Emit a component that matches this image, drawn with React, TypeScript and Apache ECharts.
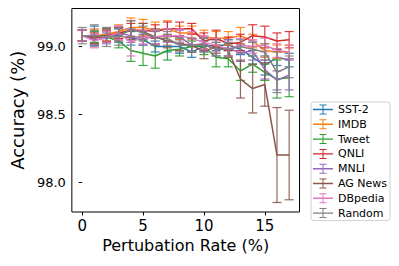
import React, { useEffect, useRef } from "react";
import * as echarts from "echarts";

const xValues = [0, 1, 2, 3, 4, 5, 6, 7, 8, 9, 10, 11, 12, 13, 14, 15, 16, 17];
const seriesNames = ["SST-2", "IMDB", "Tweet", "QNLI", "MNLI", "AG News", "DBpedia", "Random"];
const colors = ["#1f77b4", "#ff7f0e", "#2ca02c", "#d62728", "#9467bd", "#8c564b", "#e377c2", "#7f7f7f"];

const sst2 = [99.08, 99.08, 99.08, 99.08, 99.06, 99.05, 99.0, 99.0, 99.0, 98.96, 99.0, 99.01, 99.01, 98.98, 98.92, 98.86, 98.92, 98.9];
const sst2Err = [0.04, 0.07, 0.05, 0.05, 0.05, 0.04, 0.04, 0.04, 0.05, 0.04, 0.04, 0.04, 0.04, 0.04, 0.05, 0.07, 0.06, 0.05];
const imdb = [99.08, 99.08, 99.09, 99.11, 99.14, 99.14, 99.12, 99.13, 99.1, 99.1, 99.07, 99.06, 99.06, 99.08, 99.04, 98.97, 98.96, 98.96];
const imdbErr = [0.04, 0.05, 0.05, 0.05, 0.07, 0.06, 0.06, 0.06, 0.05, 0.05, 0.05, 0.05, 0.05, 0.06, 0.05, 0.05, 0.05, 0.05];
const tweet = [99.08, 99.07, 99.07, 99.04, 98.97, 98.95, 98.93, 98.97, 98.98, 99.0, 99.0, 98.92, 98.91, 98.82, 98.87, 98.81, 98.76, 98.77];
const tweetErr = [0.04, 0.04, 0.04, 0.05, 0.08, 0.09, 0.09, 0.07, 0.05, 0.04, 0.06, 0.07, 0.06, 0.07, 0.06, 0.06, 0.14, 0.14];
const qnli = [99.08, 99.06, 99.08, 99.1, 99.12, 99.12, 99.11, 99.13, 99.13, 99.13, 99.04, 99.06, 99.02, 99.03, 99.08, 99.07, 99.04, 99.05];
const qnliErr = [0.04, 0.04, 0.04, 0.04, 0.05, 0.05, 0.05, 0.05, 0.05, 0.04, 0.06, 0.06, 0.05, 0.06, 0.08, 0.08, 0.06, 0.06];
const mnli = [99.08, 99.05, 99.06, 99.1, 99.08, 99.06, 99.07, 99.08, 99.07, 99.01, 99.02, 98.98, 98.99, 98.95, 98.97, 98.83, 98.75, 98.79];
const mnliErr = [0.04, 0.04, 0.04, 0.05, 0.05, 0.05, 0.05, 0.05, 0.05, 0.05, 0.05, 0.05, 0.06, 0.06, 0.07, 0.07, 0.07, 0.11];
const agNews = [99.08, 99.07, 99.08, 99.09, 99.12, 99.11, 99.07, 99.04, 99.02, 99.01, 98.96, 99.0, 98.97, 98.76, 98.69, 98.72, 98.2, 98.2];
const agNewsErr = [0.04, 0.05, 0.05, 0.05, 0.07, 0.06, 0.06, 0.05, 0.05, 0.05, 0.05, 0.05, 0.05, 0.14, 0.18, 0.16, 0.35, 0.33];
const dbpedia = [99.08, 99.04, 99.07, 99.1, 99.03, 99.07, 99.07, 99.08, 99.08, 99.06, 99.03, 99.01, 98.98, 99.01, 99.0, 99.01, 98.97, 98.96];
const dbpediaErr = [0.04, 0.05, 0.04, 0.05, 0.1, 0.05, 0.05, 0.05, 0.05, 0.05, 0.05, 0.05, 0.05, 0.05, 0.05, 0.05, 0.05, 0.05];
const random = [99.08, 99.08, 99.07, 99.07, 99.13, 99.1, 99.06, 99.06, 99.01, 99.01, 99.01, 98.98, 98.98, 99.0, 98.98, 98.96, 98.81, 98.85];
const randomErr = [0.06, 0.08, 0.07, 0.06, 0.06, 0.05, 0.05, 0.05, 0.05, 0.05, 0.05, 0.05, 0.05, 0.05, 0.05, 0.06, 0.15, 0.08];

const allValues = [sst2, imdb, tweet, qnli, mnli, agNews, dbpedia, random];
const allErrors = [sst2Err, imdbErr, tweetErr, qnliErr, mnliErr, agNewsErr, dbpediaErr, randomErr];

const xTicks = [0, 5, 10, 15];
const yTicks = [98.0, 98.5, 99.0];

const FONT = "DejaVu Sans";
const legendIcon =
  "path://M0,4.3H20V5.7H0Z M9.5,0H10.5V10H9.5Z M6.5,0H13.5V1H6.5Z M6.5,9H13.5V10H6.5Z";

export default function App() {
  const ref = useRef<HTMLDivElement>(null);
  useEffect(() => {
    if (!ref.current) return;
    const chart = echarts.init(ref.current, undefined, { renderer: "svg" });
    const series: any[] = [];
    seriesNames.forEach((name, i) => {
      const color = colors[i];
      series.push({
        name,
        type: "line",
        data: xValues.map((x, j) => [x, allValues[i][j]]),
        showSymbol: false,
        symbol: "none",
        lineStyle: { width: 1.5, color },
        itemStyle: { color },
        z: 2 + i * 0.01,
      });
      series.push({
        name,
        type: "custom",
        data: xValues.map((x, j) => [x, allValues[i][j], allErrors[i][j]]),
        encode: { x: 0, y: 1 },
        itemStyle: { color },
        z: 2 + i * 0.01,
        renderItem: (params: any, api: any) => {
          const x = api.value(0);
          const y = api.value(1);
          const e = api.value(2);
          const top = api.coord([x, y + e]);
          const bot = api.coord([x, y - e]);
          const cw = 4.5;
          const style = { stroke: color, lineWidth: 1.2, opacity: 0.9 };
          return {
            type: "group",
            children: [
              { type: "line", shape: { x1: top[0], y1: top[1], x2: bot[0], y2: bot[1] }, style },
              { type: "line", shape: { x1: top[0] - cw, y1: top[1], x2: top[0] + cw, y2: top[1] }, style },
              { type: "line", shape: { x1: bot[0] - cw, y1: bot[1], x2: bot[0] + cw, y2: bot[1] }, style },
            ],
          };
        },
      });
    });

    chart.setOption({
      animation: false,
      textStyle: { fontFamily: FONT },
      grid: {
        left: 68,
        top: 8.5,
        right: 99.5,
        bottom: 54,
        show: true,
        borderColor: "#000",
        borderWidth: 1,
        backgroundColor: "transparent",
      },
      xAxis: {
        type: "value",
        min: -0.85,
        max: 17.85,
        name: "Pertubation Rate (%)",
        nameLocation: "middle",
        nameGap: 24,
        nameTextStyle: { fontSize: 16, color: "#000", fontFamily: FONT },
        axisLine: { show: false },
        splitLine: { show: false },
        axisTick: { show: true, length: 3.5, lineStyle: { color: "#000" }, customValues: xTicks },
        axisLabel: { fontSize: 15, color: "#000", margin: 6, fontFamily: FONT, customValues: xTicks, formatter: (v: number) => String(v) },
      },
      yAxis: {
        type: "value",
        min: 97.78,
        max: 99.28,
        name: "Accuracy (%)",
        nameLocation: "middle",
        nameGap: 38,
        nameTextStyle: { fontSize: 18, color: "#000", fontFamily: FONT },
        axisLine: { show: false },
        splitLine: { show: false },
        axisTick: { show: true, length: 3.5, lineStyle: { color: "#000" }, customValues: yTicks },
        axisLabel: { fontSize: 13, color: "#000", margin: 6, fontFamily: FONT, customValues: yTicks, formatter: (v: number) => v.toFixed(1) },
      },
      legend: {
        orient: "vertical",
        left: 311,
        top: 102,
        padding: [2, 3, 2, 2],
        itemGap: 3.8,
        itemWidth: 20,
        itemHeight: 10,
        borderColor: "#d0d0d0",
        borderWidth: 1,
        borderRadius: 3,
        backgroundColor: "rgba(255,255,255,0.8)",
        textStyle: { fontSize: 11, color: "#000", fontFamily: FONT },
        data: seriesNames.map((name, i) => ({ name, icon: legendIcon, itemStyle: { color: colors[i] } })),
      },
      series,
    });
    return () => chart.dispose();
  }, []);
  return (
    <div
      ref={ref}
      style={{ position: "fixed", left: 0, top: 0, width: 399, height: 266, background: "#fff" }}
    />
  );
}
